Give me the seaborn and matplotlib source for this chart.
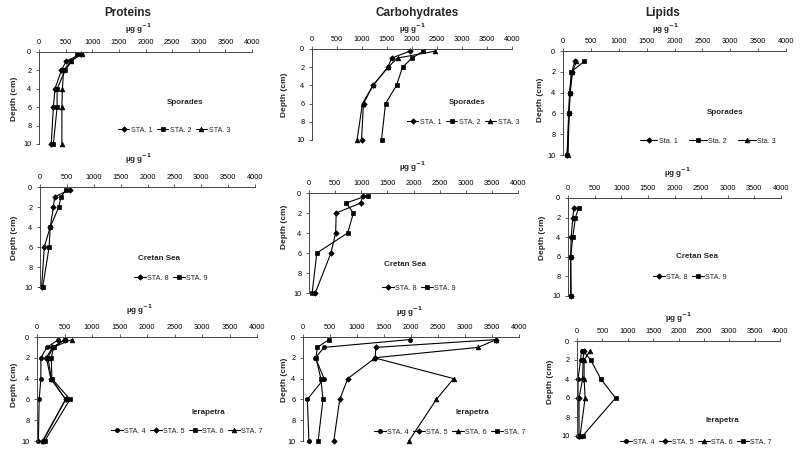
import matplotlib
matplotlib.use("Agg")
import matplotlib.pyplot as plt
import seaborn as sns

sns.set_style("white")
plt.rcParams['font.family'] = ['Liberation Sans', 'DejaVu Sans']

# ---------------- data ----------------
depth_full = [0.25, 1, 2, 4, 6, 10]
depth_lip = [1, 2, 4, 6, 10]
x_ticks = [0, 500, 1000, 1500, 2000, 2500, 3000, 3500, 4000]
y_ticks = [0, 2, 4, 6, 8, 10]

# Proteins
prot_spor_sta1 = [780, 510, 420, 300, 270, 230]
prot_spor_sta2 = [720, 610, 490, 340, 340, 270]
prot_spor_sta3 = [800, 600, 460, 440, 430, 430]
prot_cret_sta8 = [550, 270, 250, 190, 80, 30]
prot_cret_sta9 = [490, 390, 350, 190, 170, 50]
prot_iera_sta4 = [390, 180, 70, 70, 40, 25]
prot_iera_sta5 = [510, 280, 170, 250, 520, 100]
prot_iera_sta6 = [500, 300, 260, 270, 600, 140]
prot_iera_sta7 = [630, 290, 200, 260, 520, 110]

# Carbohydrates
carb_spor_sta1 = [1950, 1590, 1520, 1220, 1030, 990]
carb_spor_sta2 = [2220, 2000, 1810, 1690, 1470, 1390]
carb_spor_sta3 = [2450, 1710, 1520, 1220, 1010, 900]
carb_cret_sta8 = [1030, 990, 520, 510, 420, 120]
carb_cret_sta9 = [1120, 710, 850, 740, 150, 60]
carb_iera_sta4 = [1975, 390, 230, 390, 80, 110]
carb_iera_sta5 = [3570, 1345, 1340, 830, 680, 570]
carb_iera_sta6 = [3580, 3240, 1320, 2790, 2470, 1960]
carb_iera_sta7 = [480, 265, 240, 330, 370, 280]

# Lipids
lip_spor_sta1 = [210, 160, 120, 110, 70]
lip_spor_sta2 = [380, 150, 120, 100, 80]
lip_spor_sta3 = [240, 170, 130, 110, 90]
lip_cret_sta8 = [110, 90, 60, 50, 50]
lip_cret_sta9 = [200, 140, 90, 50, 60]
lip_iera_sta4 = [90, 70, 20, 20, 10]
lip_iera_sta5 = [130, 120, 110, 40, 40]
lip_iera_sta6 = [260, 140, 140, 160, 60]
lip_iera_sta7 = [120, 270, 470, 760, 110]

col_titles = ["Proteins", "Carbohydrates", "Lipids"]
unit_label = "µg g$^{\\mathbf{-1}}$"
depth_label = "Depth (cm)"

# ---------------- layout (pixels) ----------------
W, H = 800, 462
fig = plt.figure(figsize=(W / 100, H / 100), dpi=100)


def fx(x):
    return x / W


def fy(y):
    return 1 - y / H


panels = [
    dict(box=(39, 252, 52, 144), region="Sporades", rpos=(185, 103), lpos=(174, 130),
         upos=(138, 29), dpos=(14, 99),
         series=[("STA. 1", prot_spor_sta1, "D"), ("STA. 2", prot_spor_sta2, "s"),
                 ("STA. 3", prot_spor_sta3, "^")], depth=depth_full),
    dict(box=(312, 512, 49, 140), region="Sporades", rpos=(467, 103), lpos=(463, 122),
         upos=(412, 29), dpos=(284, 95),
         series=[("STA. 1", carb_spor_sta1, "D"), ("STA. 2", carb_spor_sta2, "s"),
                 ("STA. 3", carb_spor_sta3, "^")], depth=depth_full),
    dict(box=(563, 786, 51, 155), region="Sporades", rpos=(725, 112), lpos=(708, 141),
         upos=(665, 29), dpos=(541, 100), hl=2.4, cs=1.6,
         series=[("Sta. 1", lip_spor_sta1, "D"), ("Sta. 2", lip_spor_sta2, "s"),
                 ("Sta. 3", lip_spor_sta3, "^")], depth=depth_lip),
    dict(box=(40, 255, 187, 287), region="Cretan Sea", rpos=(159, 258), lpos=(171, 278),
         upos=(138, 159), dpos=(15, 238),
         series=[("STA. 8", prot_cret_sta8, "D"), ("STA. 9", prot_cret_sta9, "s")],
         depth=depth_full),
    dict(box=(309, 518, 193, 293), region="Cretan Sea", rpos=(405, 265), lpos=(419, 288),
         upos=(412, 167), dpos=(284, 227),
         series=[("STA. 8", carb_cret_sta8, "D"), ("STA. 9", carb_cret_sta9, "s")],
         depth=depth_full),
    dict(box=(568, 781, 198, 296), region="Cretan Sea", rpos=(697, 257), lpos=(690, 277),
         upos=(677, 173), dpos=(543, 238),
         series=[("STA. 8", lip_cret_sta8, "D"), ("STA. 9", lip_cret_sta9, "s")],
         depth=depth_lip),
    dict(box=(37, 257, 337, 441), region="Ierapetra", rpos=(208, 412), lpos=(187, 431),
         upos=(139, 310), dpos=(15, 385),
         series=[("STA. 4", prot_iera_sta4, "o"), ("STA. 5", prot_iera_sta5, "D"),
                 ("STA. 6", prot_iera_sta6, "s"), ("STA. 7", prot_iera_sta7, "^")],
         depth=depth_full),
    dict(box=(303, 519, 337, 441), region="Ierapetra", rpos=(472, 412), lpos=(450, 432),
         upos=(409, 312), dpos=(285, 380),
         series=[("STA. 4", carb_iera_sta4, "o"), ("STA. 5", carb_iera_sta5, "D"),
                 ("STA. 6", carb_iera_sta6, "^"), ("STA. 7", carb_iera_sta7, "s")],
         depth=depth_full),
    dict(box=(577, 780, 341, 436), region="Ierapetra", rpos=(722, 420), lpos=(696, 442),
         upos=(678, 318), dpos=(550, 382),
         series=[("STA. 4", lip_iera_sta4, "o"), ("STA. 5", lip_iera_sta5, "D"),
                 ("STA. 6", lip_iera_sta6, "^"), ("STA. 7", lip_iera_sta7, "s")],
         depth=depth_lip),
]

spine_col = "#444444"
msize = {"D": 2.8, "s": 3.0, "^": 3.4, "o": 3.0}

for p in panels:
    x0, x1, y0, y1 = p["box"]
    ax = fig.add_axes([fx(x0), fy(y1), (x1 - x0) / W, (y1 - y0) / H])
    ax.set_facecolor("none")
    for name, vals, mk in p["series"]:
        sns.lineplot(x=vals, y=p["depth"], ax=ax, sort=False, estimator=None,
                     color="black", linewidth=0.8, marker=mk, markersize=msize[mk],
                     markeredgecolor="black", markerfacecolor="black",
                     markeredgewidth=0.5, clip_on=False, label=name, legend=False)
    ax.set_xlim(0, 4000)
    ax.set_ylim(10, 0)
    ax.set_xticks(x_ticks)
    ax.set_yticks(y_ticks)
    ax.xaxis.tick_top()
    ax.set_xlabel("")
    ax.set_ylabel("")
    for s in ["right", "bottom"]:
        ax.spines[s].set_visible(False)
    for s in ["top", "left"]:
        ax.spines[s].set_color(spine_col)
        ax.spines[s].set_linewidth(0.7)
    ax.tick_params(axis="x", which="major", top=True, bottom=False, length=2,
                   width=0.6, color=spine_col, labelsize=5.3, pad=2.5,
                   labelcolor="black")
    ax.tick_params(axis="y", which="major", left=True, length=2.5, width=0.6,
                   color=spine_col, labelsize=5.3, pad=3, labelcolor="black")
    ax.grid(False)

    hs, ls = ax.get_legend_handles_labels()
    ax.legend(hs, ls, loc="center", ncol=len(ls), frameon=False,
              fontsize=5.2, handlelength=p.get("hl", 1.6), handletextpad=0.2,
              columnspacing=p.get("cs", 0.6), borderpad=0,
              bbox_to_anchor=(fx(p["lpos"][0]), fy(p["lpos"][1])),
              bbox_transform=fig.transFigure)

    fig.text(fx(p["rpos"][0]), fy(p["rpos"][1]), p["region"], ha="center",
             va="center", fontsize=5.8, fontweight="bold")
    fig.text(fx(p["upos"][0]), fy(p["upos"][1]), unit_label, ha="center",
             va="center", fontsize=5.8, fontweight="bold")
    fig.text(fx(p["dpos"][0]), fy(p["dpos"][1]), depth_label, ha="center",
             va="center", fontsize=6, fontweight="bold", rotation=90)

for t, (x, y) in zip(col_titles, [(128, 13), (417, 13), (663, 13)]):
    fig.text(fx(x), fy(y), t, ha="center", va="center", fontsize=8.5,
             fontweight="bold")

fig.savefig("out.png", dpi=100, facecolor="white")
